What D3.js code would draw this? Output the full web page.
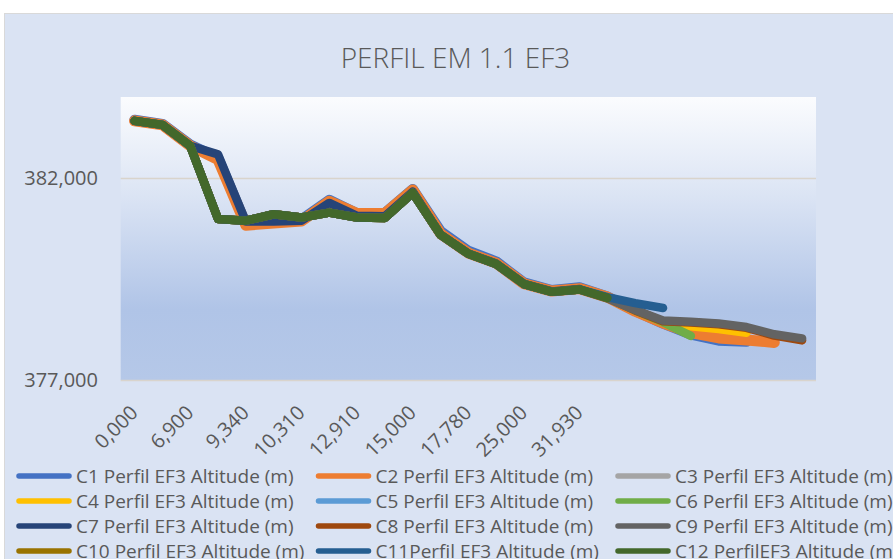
<!DOCTYPE html>
<html>
<head>
<meta charset="utf-8">
<script src="https://cdn.jsdelivr.net/npm/d3@7/dist/d3.min.js"></script>
<style>
  html, body { margin: 0; padding: 0; background: #ffffff; }
  svg { display: block; font-family: "Open Sans", "Liberation Sans", sans-serif; }
</style>
</head>
<body>
<div id="chart"></div>
<script>
// ========================================
// DATA
// ========================================

// distance labels (only every second category carries a visible label)
const categories = ["0,000", "", "6,900", "", "9,340", "", "10,310", "", "12,910", "",
  "15,000", "", "17,780", "", "25,000", "", "31,930", "", "", "", "", "", "", "", ""];

const yTicks = [377, 382];

const seriesNames = [
  "C1 Perfil EF3 Altitude (m)", "C2 Perfil EF3 Altitude (m)", "C3 Perfil EF3 Altitude (m)",
  "C4 Perfil EF3 Altitude (m)", "C5 Perfil EF3 Altitude (m)", "C6 Perfil EF3 Altitude (m)",
  "C7 Perfil EF3 Altitude (m)", "C8 Perfil EF3 Altitude (m)", "C9 Perfil EF3 Altitude (m)",
  "C10 Perfil EF3 Altitude (m)", "C11Perfil EF3 Altitude (m)", "C12 PerfilEF3 Altitude (m)"
];

const seriesColors = ["#4472c4", "#ed7d31", "#a5a5a5", "#ffc000", "#5b9bd5", "#70ad47",
  "#264478", "#9e480e", "#636363", "#997300", "#255e91", "#43682b"];

const c1 = [383.43, 383.33, 382.82, 382.49, 380.86, 380.90, 380.97, 381.45, 381.12, 381.13, 381.72, 380.68,
  380.19, 379.93, 379.41, 379.22, 379.29, 379.06, 378.71, 378.40, 378.13, 377.98, 377.95];
const c2 = [383.41, 383.31, 382.79, 382.45, 380.83, 380.88, 380.93, 381.42, 381.12, 381.12, 381.70, 380.62,
  380.14, 379.89, 379.38, 379.20, 379.26, 379.05, 378.70, 378.41, 378.17, 378.04, 377.99, 377.93];
const c3 = [383.41, 383.31, 382.79, 380.98, 380.94, 381.10, 381.02, 381.14, 381.02, 381.01, 381.63, 380.59,
  380.12, 379.87, 379.37, 379.18, 379.24, 379.03];
const c4 = [383.41, 383.31, 382.79, 380.98, 380.94, 381.10, 381.02, 381.14, 381.02, 381.01, 381.63, 380.59,
  380.12, 379.87, 379.37, 379.18, 379.24, 379.03, 378.72, 378.44, 378.33, 378.26, 378.17];
const c5 = [383.41, 383.31, 382.79, 380.98, 380.94, 381.10, 381.02, 381.14, 381.02, 381.01, 381.63, 380.59,
  380.12, 379.87, 379.37, 379.18, 379.24, 379.03];
const c6 = [383.41, 383.31, 382.79, 380.98, 380.94, 381.10, 381.02, 381.14, 381.02, 381.01, 381.63, 380.59,
  380.12, 379.87, 379.37, 379.18, 379.24, 379.03, 378.72, 378.43, 378.09];
const c7 = [383.41, 383.31, 382.79, 382.58, 380.92, 380.92, 380.94, 381.38, 381.06, 381.05, 381.66, 380.60,
  380.13, 379.88, 379.38, 379.19, 379.25];
const c8 = [383.41, 383.31, 382.79, 380.98, 380.94, 381.10, 381.02, 381.14, 381.02, 381.01, 381.63, 380.59,
  380.12, 379.87, 379.37, 379.18, 379.24, 379.03, 378.72, 378.45, 378.42, 378.38, 378.29, 378.10, 377.98];
const c9 = [383.41, 383.31, 382.79, 380.98, 380.94, 381.10, 381.02, 381.14, 381.02, 381.01, 381.63, 380.59,
  380.12, 379.87, 379.37, 379.18, 379.24, 379.02, 378.73, 378.47, 378.44, 378.40, 378.31, 378.13, 378.03];
const c10 = [383.41, 383.31, 382.79, 380.98, 380.94, 381.10, 381.02, 381.14, 381.02, 381.01, 381.63, 380.59,
  380.12, 379.87, 379.37, 379.18, 379.24, 379.03];
const c11 = [383.41, 383.31, 382.79, 380.98, 380.94, 381.10, 381.02, 381.14, 381.02, 381.01, 381.63, 380.59,
  380.12, 379.87, 379.37, 379.18, 379.24, 379.05, 378.90, 378.78];
const c12 = [383.41, 383.31, 382.79, 380.98, 380.94, 381.10, 381.02, 381.14, 381.02, 381.01, 381.63, 380.59,
  380.12, 379.87, 379.37, 379.18, 379.24, 379.03];

const seriesValues = [c1, c2, c3, c4, c5, c6, c7, c8, c9, c10, c11, c12];

// ========================================
// SETUP
// ========================================

const width = 893, height = 559;
const plot = { left: 120.7, right: 816, top: 97, bottom: 380 };
const textColor = "#595959";

let svg = d3.select("#chart")
  .append("svg")
  .attr("width", width)
  .attr("height", height);

let defs = svg.append("defs");
let grad = defs.append("linearGradient")
  .attr("id", "plotGrad")
  .attr("x1", 0).attr("y1", 0).attr("x2", 0).attr("y2", 1);
[["0%", "#fbfcfe"], ["35%", "#dbe4f4"], ["75%", "#b0c4e7"], ["100%", "#b5c8e8"]]
  .forEach(s => grad.append("stop").attr("offset", s[0]).attr("stop-color", s[1]));

// chart area
svg.append("rect")
  .attr("x", 4.5).attr("y", 13.5)
  .attr("width", 920).attr("height", 600)
  .attr("fill", "#dae3f3")
  .attr("stroke", "#d9d9d9");

// plot area
svg.append("rect")
  .attr("x", plot.left).attr("y", plot.top)
  .attr("width", plot.right - plot.left).attr("height", plot.bottom - plot.top)
  .attr("fill", "url(#plotGrad)");

// ========================================
// SCALES AND AXES
// ========================================

let x = d3.scalePoint()
  .domain(d3.range(categories.length))
  .range([plot.left, plot.right])
  .padding(0.5);

let y = d3.scaleLinear()
  .domain([377, 384])
  .range([plot.bottom, plot.top]);

const fmt = v => d3.format(".3f")(v).replace(".", ",");

// gridlines
svg.append("g")
  .selectAll("line")
  .data(yTicks)
  .join("line")
  .attr("x1", plot.left).attr("x2", plot.right)
  .attr("y1", d => Math.round(y(d)) + 0.5).attr("y2", d => Math.round(y(d)) + 0.5)
  .attr("stroke", "#d9d4cc")
  .attr("stroke-width", 1.5);

// y labels
svg.append("g")
  .selectAll("text")
  .data(yTicks)
  .join("text")
  .attr("x", 98)
  .attr("y", d => y(d))
  .attr("dy", "0.35em")
  .attr("text-anchor", "end")
  .attr("fill", textColor)
  .style("font-size", "20px")
  .text(fmt);

// x labels, rotated
svg.append("g")
  .selectAll("text")
  .data(categories.map((c, i) => ({ c, i })).filter(d => d.c !== ""))
  .join("text")
  .attr("transform", d => "translate(" + (x(d.i) + 4.5) + ",414) rotate(-45)")
  .attr("text-anchor", "end")
  .attr("fill", textColor)
  .style("font-size", "20px")
  .text(d => d.c);

// ========================================
// LINES
// ========================================

let line = d3.line()
  .x((d, i) => x(i))
  .y(d => y(d));

svg.append("g")
  .selectAll("path")
  .data(seriesValues)
  .join("path")
  .attr("d", d => line(d))
  .attr("fill", "none")
  .attr("stroke", (d, i) => seriesColors[i])
  .attr("stroke-width", (d, i) => i === 1 ? 11 : (i === 0 ? 10.5 : 8.5))
  .attr("stroke-linejoin", "round")
  .attr("stroke-linecap", "round");

// title
svg.append("text")
  .attr("x", 455.5)
  .attr("y", 68)
  .attr("text-anchor", "middle")
  .attr("fill", textColor)
  .style("font-size", "28px")
  .style("font-weight", 300)
  .text("PERFIL EM 1.1 EF3");

// ========================================
// LEGEND
// ========================================

let legend = svg.append("g")
  .selectAll("g")
  .data(seriesNames)
  .join("g")
  .attr("transform", (d, i) => "translate(" + (16 + (i % 3) * 299.5) + "," + (476 + Math.floor(i / 3) * 25) + ")");

legend.append("line")
  .attr("x1", 3).attr("x2", 53)
  .attr("stroke", (d, i) => seriesColors[i])
  .attr("stroke-width", 5.5)
  .attr("stroke-linecap", "round");

legend.append("text")
  .attr("x", 60)
  .attr("dy", "0.35em")
  .attr("fill", textColor)
  .style("font-size", "19px")
  .text(d => d);
</script>
</body>
</html>
